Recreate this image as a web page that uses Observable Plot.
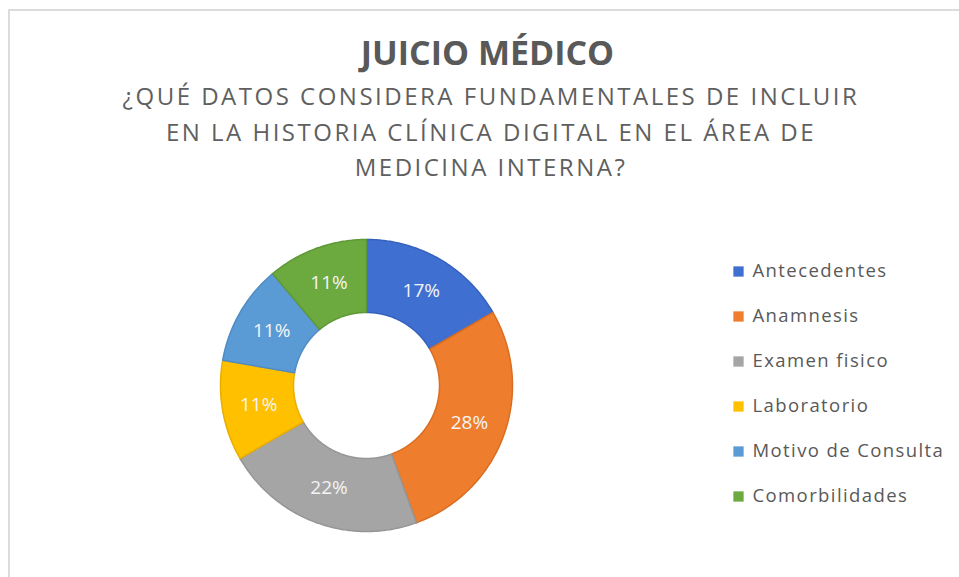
<!DOCTYPE html>
<html>
<head>
<meta charset="utf-8">
<script src="https://cdn.jsdelivr.net/npm/d3@7"></script>
<script src="https://cdn.jsdelivr.net/npm/@observablehq/plot@0.6"></script>
<style>
  html, body { margin: 0; padding: 0; background: #fff; }
  #page { position: relative; width: 959px; height: 577px; overflow: hidden; font-family: "Open Sans", sans-serif; }
  #frame { position: absolute; left: 8px; top: 9px; width: 960px; height: 580px; border-top: 2px solid #dcdcdc; border-left: 2px solid #dcdcdc; box-sizing: border-box; }
  #title { position: absolute; left: 0; width: 975px; top: 30px; text-align: center; font-size: 34px; font-weight: 700; color: #595959; line-height: 44px; }
  #subtitle { position: absolute; left: 0; width: 982px; top: 78px; text-align: center; font-size: 24px; color: #5f5f5f; line-height: 35.5px; letter-spacing: 2.5px; }
  #donut { position: absolute; left: 216px; top: 235px; }
  #legend { position: absolute; left: 728px; top: 251px; }
  #legend text { letter-spacing: 1.4px; }
</style>
</head>
<body>
<div id="page">
  <div id="frame"></div>
  <div id="title">JUICIO MÉDICO</div>
  <div id="subtitle">¿QUÉ DATOS CONSIDERA FUNDAMENTALES DE INCLUIR<br>EN LA HISTORIA CLÍNICA DIGITAL EN EL ÁREA DE<br>MEDICINA INTERNA?</div>
  <div id="donut"></div>
  <div id="legend"></div>
</div>
<script>
// Data
const categories = ["Antecedentes", "Anamnesis", "Examen fisico", "Laboratorio", "Motivo de Consulta", "Comorbilidades"];
const counts = [3, 5, 4, 2, 2, 2];
const labels = ["17%", "28%", "22%", "11%", "11%", "11%"];
const colors = ["#3f6fd1", "#ef7d2e", "#a5a5a5", "#ffc000", "#5b9bd5", "#6ca93f"];
const borders = ["#3562bd", "#d96d22", "#969696", "#e8ae00", "#4f8cc4", "#5f9836"];

const table = categories.map((c, i) => ({key: c, value: counts[i], label: labels[i], color: colors[i], border: borders[i]}));

const INNER = 0.5, OUTER = 1;
const arcs = d3.pie().sort(null).value(d => d.value)(table);

// polygon outline of each slice, derived from the pie layout
const pts = [];
arcs.forEach(a => {
  const n = Math.max(8, Math.ceil((a.endAngle - a.startAngle) / 0.01));
  for (let k = 0; k <= n; k++) {
    const t = a.startAngle + (a.endAngle - a.startAngle) * k / n;
    pts.push({key: a.data.key, color: a.data.color, border: a.data.border, x: OUTER * Math.sin(t), y: OUTER * Math.cos(t)});
  }
  for (let k = n; k >= 0; k--) {
    const t = a.startAngle + (a.endAngle - a.startAngle) * k / n;
    pts.push({key: a.data.key, color: a.data.color, border: a.data.border, x: INNER * Math.sin(t), y: INNER * Math.cos(t)});
  }
});
const mids = arcs.map(a => {
  const t = (a.startAngle + a.endAngle) / 2, r = (INNER + OUTER) / 2;
  return {label: a.data.label, x: r * Math.sin(t), y: r * Math.cos(t)};
});

const donut = Plot.plot({
  width: 300, height: 300, margin: 4,
  x: {domain: [-1, 1], axis: null},
  y: {domain: [-1, 1], axis: null},
  color: {type: "identity"},
  marks: [
    Plot.line(pts, {x: "x", y: "y", z: "key", fill: "color", stroke: "border", strokeWidth: 1.5, curve: "linear-closed"}),
    Plot.text(mids, {x: "x", y: "y", text: "label", fill: "#f4f4f4", fontSize: 19, fontFamily: "Open Sans, sans-serif"})
  ]
});
document.getElementById("donut").appendChild(donut);

const legend = Plot.plot({
  width: 231, height: 270, margin: 0,
  x: {domain: [0, 1], range: [10, 210], axis: null},
  y: {type: "point", domain: categories, range: [20, 245], padding: 0, axis: null},
  color: {type: "identity"},
  marks: [
    Plot.dot(table, {x: () => 0, y: "key", symbol: "square", r: 5.8, fill: "color", stroke: "none"}),
    Plot.text(table, {x: () => 0, y: "key", text: "key", dx: 14, textAnchor: "start", fill: "#595959", fontSize: 18.5, fontFamily: "Open Sans, sans-serif"})
  ]
});
document.getElementById("legend").appendChild(legend);
</script>
</body>
</html>
